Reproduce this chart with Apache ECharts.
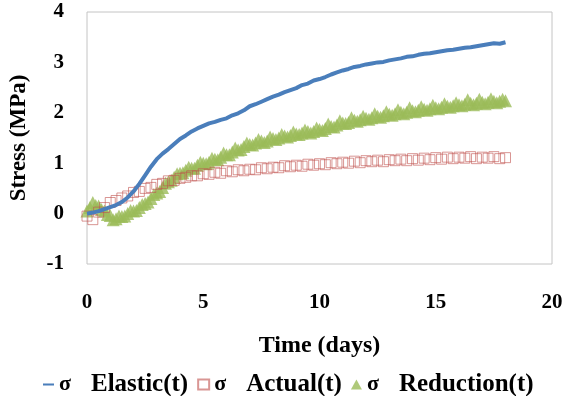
<!DOCTYPE html>
<html>
<head>
<meta charset="utf-8">
<script src="https://cdn.jsdelivr.net/npm/echarts@6/dist/echarts.min.js"></script>
<style>
  html, body { margin: 0; padding: 0; background: #fff; }
  #chart { width: 575px; height: 396px; }
</style>
</head>
<body>
<div id="chart"></div>
<script>
// time (days)
var days = [0, 0.25, 0.5, 0.75, 1, 1.25, 1.5, 1.75, 2, 2.25, 2.5, 2.75, 3, 3.25, 3.5, 3.75,
  4, 4.25, 4.5, 4.75, 5, 5.25, 5.5, 5.75, 6, 6.25, 6.5, 6.75, 7, 7.25, 7.5, 7.75,
  8, 8.25, 8.5, 8.75, 9, 9.25, 9.5, 9.75, 10, 10.25, 10.5, 10.75, 11, 11.25, 11.5, 11.75,
  12, 12.25, 12.5, 12.75, 13, 13.25, 13.5, 13.75, 14, 14.25, 14.5, 14.75, 15, 15.25, 15.5, 15.75,
  16, 16.25, 16.5, 16.75, 17, 17.25, 17.5, 17.75, 18]
// σ Elastic(t)
var elastic = [0.00, 0.02, 0.05, 0.09, 0.13, 0.17, 0.23, 0.32, 0.44, 0.59, 0.76, 0.93, 1.08, 1.19, 1.28, 1.38,
  1.48, 1.55, 1.63, 1.69, 1.74, 1.79, 1.82, 1.86, 1.89, 1.95, 1.99, 2.05, 2.13, 2.17, 2.22, 2.27,
  2.32, 2.36, 2.41, 2.45, 2.49, 2.55, 2.58, 2.64, 2.67, 2.71, 2.76, 2.80, 2.84, 2.87, 2.91, 2.93,
  2.96, 2.98, 3.00, 3.01, 3.04, 3.06, 3.08, 3.11, 3.12, 3.15, 3.17, 3.18, 3.20, 3.22, 3.24, 3.25,
  3.27, 3.29, 3.30, 3.32, 3.34, 3.36, 3.38, 3.37, 3.40]
// σ Actual(t)
var actual = [-0.05, -0.12, 0.03, 0.12, 0.22, 0.26, 0.31, 0.35, 0.42, 0.44, 0.50, 0.52, 0.58, 0.60, 0.65, 0.66,
  0.70, 0.72, 0.75, 0.75, 0.79, 0.78, 0.82, 0.80, 0.85, 0.83, 0.87, 0.85, 0.88, 0.87, 0.91, 0.89,
  0.92, 0.91, 0.95, 0.93, 0.96, 0.94, 0.98, 0.96, 0.99, 0.97, 1.01, 0.99, 1.02, 1.00, 1.04, 1.01,
  1.05, 1.03, 1.06, 1.03, 1.07, 1.05, 1.08, 1.05, 1.09, 1.06, 1.10, 1.07, 1.11, 1.08, 1.12, 1.09,
  1.12, 1.10, 1.13, 1.09, 1.12, 1.10, 1.13, 1.09, 1.11]
// σ Reduction(t), read at the same times as above
var reduction = [0.05, 0.22, 0.15, 0.05, -0.04, -0.10, -0.06, 0.00, 0.05, 0.12, 0.20, 0.30, 0.41, 0.52, 0.63, 0.72,
  0.80, 0.86, 0.90, 0.96, 1.00, 1.02, 1.08, 1.12, 1.17, 1.22, 1.26, 1.33, 1.37, 1.40, 1.44, 1.44,
  1.49, 1.50, 1.54, 1.55, 1.58, 1.60, 1.63, 1.63, 1.67, 1.69, 1.73, 1.76, 1.80, 1.81, 1.85, 1.86,
  1.89, 1.90, 1.93, 1.94, 1.97, 1.98, 2.01, 2.01, 2.04, 2.05, 2.07, 2.08, 2.10, 2.11, 2.13, 2.14,
  2.16, 2.17, 2.19, 2.19, 2.21, 2.21, 2.23, 2.23, 2.24]
// σ Reduction(t), the readings that fall between them
var daysMid = [0.125, 0.375, 0.625, 0.875, 1.125, 1.375, 1.625, 1.875, 2.125, 2.375, 2.625, 2.875,
  3.125, 3.375, 3.625, 3.875, 4.125, 4.375, 4.625, 4.875, 5.125, 5.375, 5.625, 5.875,
  6.125, 6.375, 6.625, 6.875, 7.125, 7.375, 7.625, 7.875, 8.125, 8.375, 8.625, 8.875,
  9.125, 9.375, 9.625, 9.875, 10.125, 10.375, 10.625, 10.875, 11.125, 11.375, 11.625, 11.875,
  12.125, 12.375, 12.625, 12.875, 13.125, 13.375, 13.625, 13.875, 14.125, 14.375, 14.625, 14.875,
  15.125, 15.375, 15.625, 15.875, 16.125, 16.375, 16.625, 16.875, 17.125, 17.375, 17.625, 17.875]
var reductionMid = [0.12, 0.16, 0.08, -0.02, -0.12, -0.05, -0.05, 0.06, 0.06, 0.18, 0.23, 0.38,
  0.44, 0.60, 0.66, 0.79, 0.81, 0.92, 0.90, 1.02, 0.99, 1.10, 1.07, 1.20,
  1.17, 1.30, 1.27, 1.40, 1.36, 1.47, 1.41, 1.52, 1.47, 1.57, 1.52, 1.62,
  1.57, 1.66, 1.60, 1.70, 1.65, 1.78, 1.72, 1.84, 1.79, 1.90, 1.83, 1.93,
  1.87, 1.98, 1.91, 2.02, 1.95, 2.06, 1.98, 2.10, 2.02, 2.12, 2.05, 2.15,
  2.08, 2.18, 2.11, 2.20, 2.14, 2.26, 2.16, 2.27, 2.18, 2.28, 2.20, 2.27]
var legendNames = ['σ Elastic(t)', 'σ Actual(t)', 'σ Reduction(t)']

function pairs(ts, ys) {
  return ts.map(function (t, i) { return [t, ys[i]] })
}

var serif = '"Liberation Serif", "Times New Roman", serif'
var chart = echarts.init(document.getElementById('chart'))
chart.setOption({
  animation: false,
  grid: {
    left: 87, top: 12, right: 23, bottom: 132,
    show: true, borderColor: '#c4c4c4', borderWidth: 1
  },
  legend: {
    top: 367,
    left: 38,
    itemWidth: 11,
    itemHeight: 10,
    itemGap: 9,
    symbolKeepAspect: true,
    formatter: function (name) {
      var parts = name.split(' ')
      return '{s|' + parts[0] + '}{n|' + parts[1] + '}'
    },
    textStyle: {
      fontFamily: serif, fontWeight: 'bold', fontSize: 25, color: '#000',
      rich: {
        s: { fontFamily: serif, fontWeight: 'bold', fontSize: 22, color: '#000' },
        n: { fontFamily: serif, fontWeight: 'bold', fontSize: 25, color: '#000', padding: [0, 0, 0, 20] }
      }
    },
    data: [
      { name: legendNames[0], icon: 'path://M0,0H12V2.2H0Z' },
      { name: legendNames[1] },
      { name: legendNames[2] }
    ]
  },
  xAxis: {
    type: 'value',
    min: 0, max: 20, interval: 5,
    name: 'Time (days)',
    nameLocation: 'middle',
    nameGap: 70,
    nameTextStyle: { fontFamily: serif, fontWeight: 'bold', fontSize: 24, color: '#000' },
    axisLine: { show: false },
    axisTick: { show: false },
    splitLine: { show: false },
    axisLabel: { margin: 28, fontFamily: serif, fontWeight: 'bold', fontSize: 21, color: '#000' }
  },
  yAxis: {
    type: 'value',
    min: -1, max: 4, interval: 1,
    name: 'Stress (MPa)',
    nameLocation: 'middle',
    nameRotate: 90,
    nameGap: 56,
    nameTextStyle: { fontFamily: serif, fontWeight: 'bold', fontSize: 23, color: '#000' },
    axisLine: { show: false },
    axisTick: { show: false },
    splitLine: { show: false },
    axisLabel: { margin: 23, fontFamily: serif, fontWeight: 'bold', fontSize: 21, color: '#000' }
  },
  series: [
    {
      name: legendNames[0],
      type: 'line',
      data: pairs(days, elastic),
      showSymbol: false,
      symbol: 'none',
      z: 4,
      lineStyle: { color: '#4a7ebb', width: 4 },
      itemStyle: { color: '#4a7ebb' }
    },
    {
      name: legendNames[1],
      type: 'scatter',
      data: pairs(days, actual),
      symbol: 'rect',
      symbolSize: 10,
      z: 3,
      itemStyle: { color: 'rgba(255,255,255,0)', borderColor: 'rgba(192,80,77,0.75)', borderWidth: 1 }
    },
    {
      name: legendNames[2],
      type: 'scatter',
      data: pairs(days, reduction).concat(pairs(daysMid, reductionMid)),
      symbol: 'triangle',
      symbolSize: 13,
      z: 2,
      itemStyle: { color: '#9bbb59' }
    }
  ]
})
</script>
</body>
</html>
